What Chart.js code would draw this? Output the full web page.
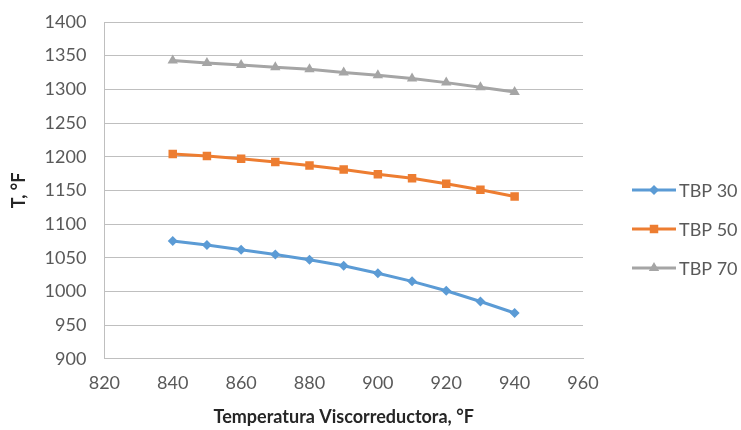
<!DOCTYPE html>
<html><head><meta charset="utf-8">
<script src="https://cdn.jsdelivr.net/npm/chart.js@4/dist/chart.umd.min.js"></script>
<style>html,body{margin:0;padding:0;background:#fff}#wrap{width:741px;height:430px}</style>
</head><body><div id="wrap"><canvas id="c" width="741" height="430"></canvas></div>
<script>
const temps = [840,850,860,870,880,890,900,910,920,930,940];
const tbp30 = [1075,1069,1062,1055,1047,1038,1027,1015,1001,985,968];
const tbp50 = [1204,1201,1197,1192,1187,1181,1174,1168,1160,1151,1141];
const tbp70 = [1343,1339,1336,1333,1330,1325,1321,1316,1310,1303,1296];
const seriesNames = ['TBP 30','TBP 50','TBP 70'];
const colors = ['#5B9BD5','#ED7D31','#A5A5A5'];
const styles = ['rectRot','rect','triangle'];
const radii = [5,6,6];
const xTitle = 'Temperatura Viscorreductora, °F';
const yTitle = 'T, °F';

const mk = (vals,i)=>({
  label: seriesNames[i],
  data: temps.map((t,k)=>({x:t,y:vals[k]})),
  borderColor: colors[i], backgroundColor: colors[i],
  borderWidth: 3, pointStyle: styles[i], pointRadius: radii[i],
  pointBorderWidth: 0, pointHoverRadius: radii[i], tension: 0
});

const legendPlugin = {
  id:'customLegend',
  afterDraw(chart){
    const ctx = chart.ctx;
    const ys = [190,229,268];
    ctx.save();
    seriesNames.forEach((n,i)=>{
      const y = ys[i];
      ctx.strokeStyle = colors[i]; ctx.lineWidth = 3;
      ctx.beginPath(); ctx.moveTo(632,y); ctx.lineTo(676,y); ctx.stroke();
      ctx.fillStyle = colors[i];
      Chart.helpers.drawPoint(ctx,{pointStyle:styles[i],radius:radii[i],borderWidth:0,rotation:0},654,y);
      ctx.fillStyle = '#595959';
      ctx.font = '18px Lato';
      ctx.textBaseline = 'middle';
      ctx.fillText(n,679,y+1);
    });
    ctx.restore();
  }
};

new Chart(document.getElementById('c'),{
  type:'line',
  data:{datasets:[mk(tbp30,0),mk(tbp50,1),mk(tbp70,2)]},
  options:{
    responsive:false, animation:false,
    layout:{padding:{top:0,right:158,bottom:2,left:8}},
    plugins:{legend:{display:false},tooltip:{enabled:false}},
    scales:{
      x:{type:'linear',min:820,max:960,
        ticks:{stepSize:20,color:'#595959',font:{family:'Lato',size:18},padding:14,callback:v=>String(v)},
        grid:{display:false,drawTicks:false},
        border:{display:true,color:'#BFBFBF',width:1},
        title:{display:true,text:xTitle,color:'#262626',font:{family:'Lato',size:18,weight:'bold'},padding:{top:-2,bottom:0}}},
      y:{min:900,max:1400,
        afterFit:s=>{s.paddingTop=22;},
        ticks:{stepSize:50,color:'#595959',font:{family:'Lato',size:18},padding:18,callback:v=>String(v)},
        grid:{color:'#BFBFBF',drawTicks:false},
        border:{display:true,color:'#BFBFBF',width:1},
        title:{display:true,text:yTitle,color:'#262626',font:{family:'Lato',size:18,weight:'bold'},padding:{top:0,bottom:-3}}}
    }
  },
  plugins:[legendPlugin]
});
</script></body></html>
